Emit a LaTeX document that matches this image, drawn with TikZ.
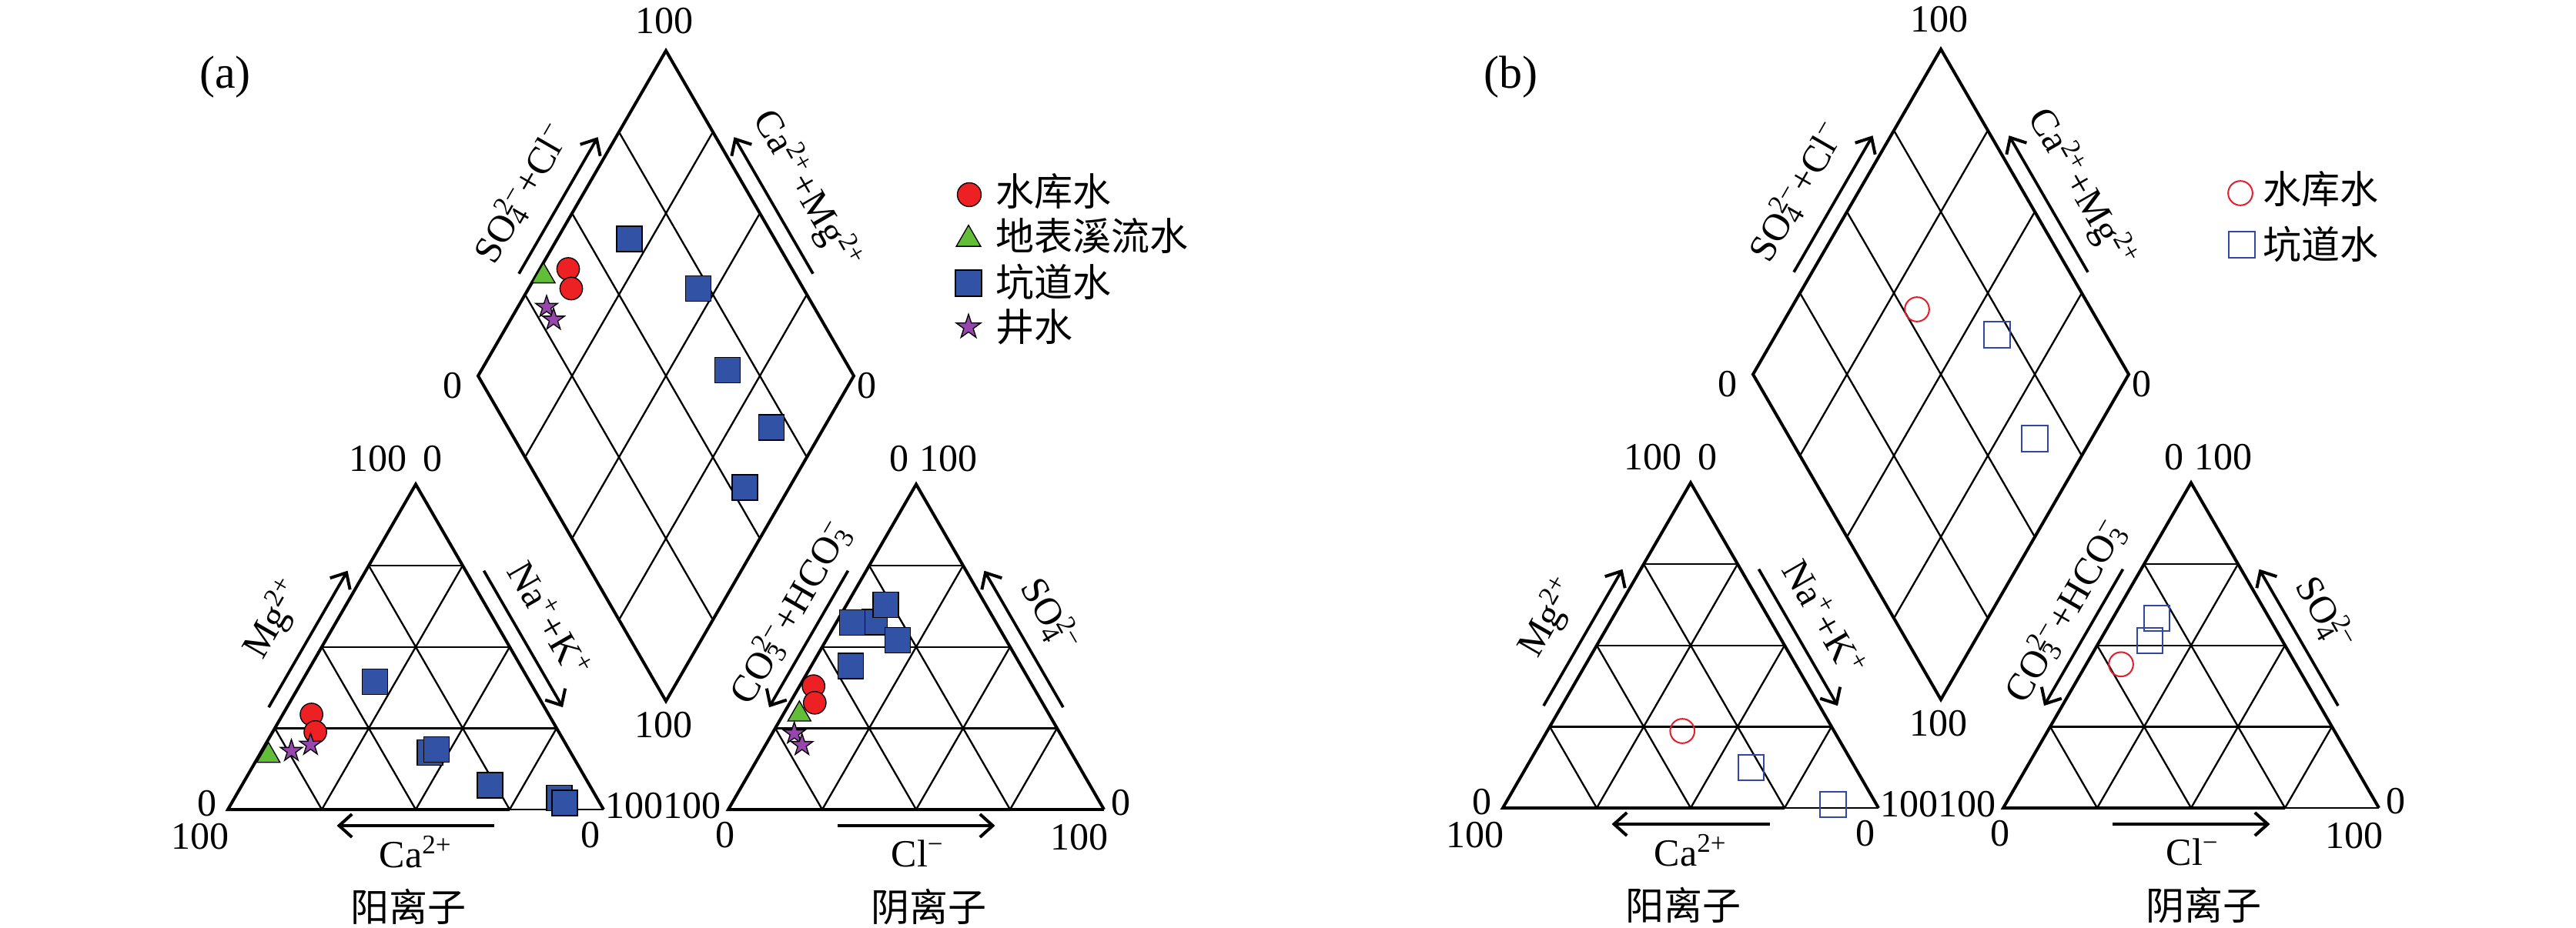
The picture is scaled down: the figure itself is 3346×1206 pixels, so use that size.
\documentclass[tikz,border=0pt]{standalone}
\usepackage{fontspec}
\setmainfont{Liberation Serif}
\newfontfamily\cjkfont{Noto Sans CJK SC}
\usetikzlibrary{arrows.meta,shapes.geometric,calc}
\definecolor{mred}{RGB}{237,32,36}
\definecolor{mgreen}{RGB}{98,190,56}
\definecolor{mblue}{RGB}{50,82,166}
\definecolor{mpurple}{RGB}{150,70,172}
\definecolor{ored}{RGB}{226,30,45}
\definecolor{oblue}{RGB}{50,70,165}
\newcommand{\subsup}[2]{\mbox{\rlap{\textsubscript{#1}}\textsuperscript{#2}}}
\tikzset{
  gridline/.style={line width=0.7pt},
  borderline/.style={line width=1.2pt, line join=miter},
  axarrow/.style={line width=1.1pt, -{Straight Barb[length=5pt,width=9pt,line width=1.2pt]}},
  lbl/.style={font=\fontsize{15}{18}\selectfont, inner sep=0pt},
  biglbl/.style={font=\fontsize{18}{21}\selectfont, inner sep=0pt},
  cjklbl/.style={font=\cjkfont\fontsize{15}{18}\selectfont, inner sep=0pt},
  rc/.style={circle, draw=black, fill=mred, line width=0.4pt, minimum size=8.8pt, inner sep=0pt},
  gt/.style={regular polygon, regular polygon sides=3, draw=black, fill=mgreen, line width=0.4pt, minimum size=10.4pt, inner sep=0pt},
  bs/.style={rectangle, draw=black, fill=mblue, line width=0.4pt, minimum size=9.9pt, inner sep=0pt},
  ps/.style={star, star points=5, star point ratio=2.6, draw=black, fill=mpurple, line width=0.4pt, minimum size=9pt, inner sep=0pt},
  oc/.style={circle, draw=ored, line width=0.6pt, minimum size=9.5pt, inner sep=0pt},
  os/.style={rectangle, draw=oblue, line width=0.6pt, minimum size=10pt, inner sep=0pt},
}
\newcommand{\piperframe}[2]{%
  \coordinate (A1) at (296,1052);
  \coordinate (B1) at (784,1052);
  \coordinate (C1) at (540,629.4);
  \coordinate (A2) at (946,1052);
  \coordinate (B2) at (1434,1052);
  \coordinate (C2) at (1190,629.4);
  \coordinate (D) at (865,911.1);
  \coordinate (Lf) at (621,488.5);
  \coordinate (T) at (865,65.9);
  \coordinate (Rt) at (1109,488.5);
  \foreach \k in {0.25,0.5,0.75}{%
    \draw[gridline] ($(A1)!\k!(C1)$) -- ($(B1)!\k!(C1)$);
    \draw[gridline] ($(A1)!\k!(B1)$) -- ($(B1)!1-\k!(C1)$);
    \draw[gridline] ($(A1)!\k!(B1)$) -- ($(A1)!\k!(C1)$);
    \draw[gridline] ($(A2)!\k!(C2)$) -- ($(B2)!\k!(C2)$);
    \draw[gridline] ($(A2)!\k!(B2)$) -- ($(B2)!1-\k!(C2)$);
    \draw[gridline] ($(A2)!\k!(B2)$) -- ($(A2)!\k!(C2)$);
    \draw[gridline] ($(D)!\k!(Rt)$) -- ($(Lf)!\k!(T)$);
    \draw[gridline] ($(D)!\k!(Lf)$) -- ($(Rt)!\k!(T)$);
  }
  \draw[borderline] ($(A1)!0.75!(B1)$) -- (A1) -- (C1) -- (B1);
  \draw[#1] ($(A1)!0.75!(B1)$) -- (B1);
  \draw[borderline] ($(A2)!0.75!(B2)$) -- (A2) -- (C2) -- (B2);
  \draw[#2] ($(A2)!0.75!(B2)$) -- (B2);
  \draw[borderline] (D) -- (Lf) -- (T) -- (Rt) -- cycle;
  % axis arrows
  \draw[axarrow] ($(A1)!0.29!(C1)+(-17.75,-10.25)$) -- ($(A1)!0.71!(C1)+(-17.75,-10.25)$);
  \draw[axarrow] ($(C1)!0.29!(B1)+(17.75,-10.25)$) -- ($(C1)!0.71!(B1)+(17.75,-10.25)$);
  \draw[axarrow] ($(A1)!0.71!(B1)+(0,21)$) -- ($(A1)!0.29!(B1)+(0,21)$);
  \draw[axarrow] ($(C2)!0.29!(A2)+(-17.75,-10.25)$) -- ($(C2)!0.71!(A2)+(-17.75,-10.25)$);
  \draw[axarrow] ($(B2)!0.29!(C2)+(17.75,-10.25)$) -- ($(B2)!0.71!(C2)+(17.75,-10.25)$);
  \draw[axarrow] ($(A2)!0.29!(B2)+(0,21)$) -- ($(A2)!0.71!(B2)+(0,21)$);
  \draw[axarrow] ($(Lf)!0.29!(T)+(-17.75,-10.25)$) -- ($(Lf)!0.71!(T)+(-17.75,-10.25)$);
  \draw[axarrow] ($(Rt)!0.29!(T)+(17.75,-10.25)$) -- ($(Rt)!0.71!(T)+(17.75,-10.25)$);
  % scale numbers
  \node[lbl] at (490.5,596) {100};
  \node[lbl] at (561.5,596) {0};
  \node[lbl] at (268.7,1044.5) {0};
  \node[lbl] at (260,1087) {100};
  \node[lbl] at (766.7,1085) {0};
  \node[lbl] at (824.2,1047.5) {100};
  \node[lbl] at (898.7,1047.5) {100};
  \node[lbl] at (941.7,1085) {0};
  \node[lbl] at (1455.6,1043) {0};
  \node[lbl] at (1401.7,1088.6) {100};
  \node[lbl] at (1167.8,596) {0};
  \node[lbl] at (1231.7,596) {100};
  \node[lbl] at (863,27) {100};
  \node[lbl] at (588,500.8) {0};
  \node[lbl] at (1125.5,500.8) {0};
  \node[lbl] at (862,942) {100};
  % axis titles
  \node[lbl, rotate=60] at (355.7,804.6) {Mg\textsuperscript{2+}};
  \node[lbl, rotate=-60] at (714.3,804.6) {Na\textsuperscript{+}+K\textsuperscript{+}};
  \node[lbl] at (540,1107) {Ca\textsuperscript{2+}};
  \node[lbl, rotate=60] at (1026.5,796) {CO\subsup{3}{2−}+HCO\subsup{3}{−}};
  \node[lbl, rotate=-60] at (1364.3,800) {SO\subsup{4}{2−}};
  \node[lbl] at (1192,1109) {Cl\textsuperscript{−}};
  \node[lbl, rotate=60] at (678,251) {SO\subsup{4}{2−}+Cl\textsuperscript{−}};
  \node[lbl, rotate=-60] at (1048,247) {Ca\textsuperscript{2+}+Mg\textsuperscript{2+}};
  \node[cjklbl] at (530,1178) {阳离子};
  \node[cjklbl] at (1206.8,1178) {阴离子};
}
\begin{document}
\begin{tikzpicture}[x=0.3pt,y=-0.3pt]
\fill[white] (0,0) rectangle (3346,1206);
\useasboundingbox (0,0) rectangle (3346,1206);
% ---------------- panel (a) ----------------
\begin{scope}
  \piperframe{gridline}{borderline}
  \node[biglbl] (la) at (292.5,100) {(a)};
  % left triangle
  \node[bs] at (487.1,886.3) {};
  \node[bs] at (558.5,978.2) {};
  \node[bs] at (567.2,974) {};
  \node[bs] at (636.4,1020.4) {};
  \node[bs] at (726.4,1037) {};
  \node[bs] at (733.4,1043.6) {};
  \node[rc] at (404.6,928.5) {};
  \node[rc] at (409.6,951.3) {};
  \node[gt] at (348.7,982) {};
  \node[ps] at (378.5,976) {};
  \node[ps] at (403.4,967.9) {};
  % right triangle
  \node[bs] at (1136.3,808.4) {};
  \node[bs] at (1107.3,808.9) {};
  \node[bs] at (1150.4,786) {};
  \node[bs] at (1166,832) {};
  \node[bs] at (1105.2,865.6) {};
  \node[rc] at (1056.7,891.7) {};
  \node[rc] at (1058.3,913.3) {};
  \node[gt] at (1038.3,928.3) {};
  \node[ps] at (1031.7,953.3) {};
  \node[ps] at (1041.7,968.3) {};
  % diamond
  \node[bs] at (817.5,310.5) {};
  \node[bs] at (907,375) {};
  \node[bs] at (945,481) {};
  \node[bs] at (1002,555.5) {};
  \node[bs] at (967.5,633.5) {};
  \node[rc] at (738,349.5) {};
  \node[rc] at (742,375) {};
  \node[gt] at (706,359) {};
  \node[ps] at (710,399) {};
  \node[ps] at (719,415.5) {};
  % legend
  \node[rc, minimum size=9.3pt] (k1) at (1259,253) {};
  \node[gt, minimum size=11pt] (k2) at (1258,311) {};
  \node[bs, minimum size=10.2pt] (k3) at (1258,368) {};
  \node[ps, minimum size=10pt] (k4) at (1258,425) {};
  \node[cjklbl, anchor=west] (t1) at (1293,249) {水库水};
  \node[cjklbl, anchor=west] (t2) at (1293,307) {地表溪流水};
  \node[cjklbl, anchor=west] (t3) at (1293,366) {坑道水};
  \node[cjklbl, anchor=west] (t4) at (1293,425) {井水};
\end{scope}
% ---------------- panel (b) ----------------
\begin{scope}[shift={(1656,-2)}]
  \piperframe{gridline}{gridline}
\end{scope}
\node[biglbl] (lb) at (1962,100) {(b)};
\node[oc] at (2185.2,950) {};
\node[os] at (2274.4,997.7) {};
\node[os] at (2381,1045.3) {};
\node[os] at (2801.7,803.3) {};
\node[os] at (2792.3,832.3) {};
\node[oc] at (2755,863.3) {};
\node[oc] at (2490,402) {};
\node[os] at (2594,435) {};
\node[os] at (2643,570) {};
\node[oc] (m1) at (2910,251) {};
\node[os] (m2) at (2912,318) {};
\node[cjklbl, anchor=west] (u1) at (2939,246) {水库水};
\node[cjklbl, anchor=west] (u2) at (2939,317) {坑道水};
\end{tikzpicture}
\end{document}
